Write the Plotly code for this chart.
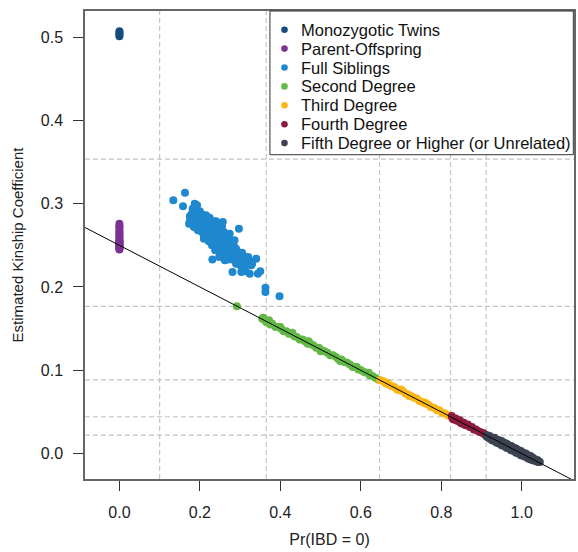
import plotly.graph_objects as go

# ---------------- data ----------------
twins_x = [0.0, 0.0, 0.0, 0.0]
twins_y = [0.501, 0.503, 0.505, 0.507]

po_x = [0.0] * 21
po_y = [0.245, 0.246, 0.247, 0.248, 0.249, 0.250, 0.251, 0.252, 0.253, 0.254,
        0.255, 0.256, 0.258, 0.260, 0.262, 0.264, 0.266, 0.268, 0.271, 0.273, 0.276]

fs_x = [0.134, 0.163, 0.158, 0.182, 0.193, 0.187, 0.173, 0.196, 0.224, 0.245, 0.257, 0.297, 0.274,
        0.340, 0.328, 0.344, 0.281, 0.303, 0.324, 0.314, 0.363, 0.363, 0.398, 0.231, 0.291, 0.350,
        0.175, 0.175, 0.180, 0.180, 0.180, 0.185, 0.185, 0.185, 0.190, 0.190, 0.190,
        0.195, 0.195, 0.195, 0.195, 0.200, 0.200, 0.200, 0.200, 0.205, 0.205, 0.205, 0.205,
        0.210, 0.210, 0.210, 0.210, 0.215, 0.215, 0.215, 0.215, 0.220, 0.220, 0.220, 0.220,
        0.225, 0.225, 0.225, 0.225, 0.230, 0.230, 0.230, 0.230, 0.230, 0.235, 0.235, 0.235, 0.235, 0.235,
        0.240, 0.240, 0.240, 0.240, 0.240, 0.245, 0.245, 0.245, 0.245, 0.245,
        0.250, 0.250, 0.250, 0.250, 0.250, 0.255, 0.255, 0.255, 0.255, 0.260, 0.260, 0.260, 0.260, 0.260,
        0.265, 0.265, 0.265, 0.265, 0.270, 0.270, 0.270, 0.270, 0.270, 0.275, 0.275, 0.275, 0.275,
        0.280, 0.280, 0.280, 0.280, 0.285, 0.285, 0.285, 0.285, 0.290, 0.290, 0.290,
        0.295, 0.295, 0.295, 0.300, 0.300, 0.300, 0.305, 0.305, 0.305, 0.310, 0.310, 0.310,
        0.315, 0.315, 0.320, 0.320, 0.325, 0.330,
        0.248, 0.262, 0.238, 0.222, 0.210, 0.255, 0.240, 0.268, 0.286]
fs_y = [0.304, 0.313, 0.297, 0.294, 0.298, 0.300, 0.276, 0.282, 0.283, 0.275, 0.278, 0.270, 0.264,
        0.234, 0.226, 0.216, 0.218, 0.218, 0.216, 0.219, 0.199, 0.194, 0.189, 0.233, 0.232, 0.219,
        0.285, 0.279, 0.288, 0.281, 0.276, 0.283, 0.290, 0.272, 0.286, 0.279, 0.271,
        0.289, 0.283, 0.276, 0.268, 0.284, 0.278, 0.272, 0.291, 0.281, 0.275, 0.287, 0.266,
        0.284, 0.278, 0.270, 0.262, 0.280, 0.274, 0.268, 0.286, 0.276, 0.270, 0.264, 0.281,
        0.273, 0.267, 0.260, 0.279, 0.276, 0.270, 0.264, 0.257, 0.250, 0.272, 0.266, 0.259, 0.279, 0.253,
        0.268, 0.262, 0.256, 0.274, 0.250, 0.265, 0.259, 0.252, 0.270, 0.246,
        0.268, 0.261, 0.255, 0.249, 0.242, 0.264, 0.258, 0.251, 0.244, 0.260, 0.254, 0.247, 0.266, 0.238,
        0.257, 0.251, 0.244, 0.239, 0.253, 0.247, 0.241, 0.258, 0.233, 0.250, 0.244, 0.238, 0.255,
        0.247, 0.241, 0.235, 0.252, 0.244, 0.238, 0.232, 0.249, 0.246, 0.240, 0.228,
        0.242, 0.236, 0.230, 0.239, 0.233, 0.226, 0.241, 0.235, 0.229, 0.237, 0.231, 0.224,
        0.233, 0.227, 0.236, 0.229, 0.231, 0.228,
        0.236, 0.232, 0.244, 0.255, 0.258, 0.273, 0.279, 0.262, 0.256]

sd_x = [0.292, 0.355, 0.357, 0.360, 0.365, 0.370, 0.372, 0.375, 0.380, 0.388, 0.395, 0.400, 0.402,
        0.408, 0.415, 0.421, 0.428, 0.430, 0.435, 0.441, 0.448, 0.455, 0.461, 0.468, 0.470, 0.475,
        0.482, 0.489, 0.496, 0.500, 0.503, 0.510, 0.517, 0.524, 0.531, 0.538, 0.545, 0.550, 0.552,
        0.559, 0.566, 0.573, 0.580, 0.587, 0.590, 0.594, 0.601, 0.608, 0.615, 0.620, 0.622, 0.629,
        0.636, 0.643]
sd_y = [0.177, 0.162, 0.163, 0.161, 0.158, 0.158, 0.160, 0.155, 0.156, 0.152, 0.152, 0.152, 0.150,
        0.147, 0.147, 0.144, 0.144, 0.145, 0.141, 0.140, 0.137, 0.137, 0.135, 0.132, 0.135, 0.132,
        0.130, 0.127, 0.127, 0.123, 0.124, 0.123, 0.121, 0.118, 0.118, 0.116, 0.113, 0.111, 0.113,
        0.110, 0.109, 0.107, 0.104, 0.104, 0.104, 0.101, 0.100, 0.098, 0.097, 0.097, 0.094, 0.093,
        0.091, 0.089]

td_x = [0.648, 0.655, 0.662, 0.665, 0.669, 0.676, 0.683, 0.690, 0.697, 0.700, 0.704, 0.711, 0.718,
        0.720, 0.725, 0.732, 0.739, 0.746, 0.753, 0.760, 0.760, 0.767, 0.774, 0.781, 0.788, 0.790,
        0.795, 0.802, 0.809, 0.816, 0.821]
td_y = [0.088, 0.087, 0.084, 0.085, 0.083, 0.081, 0.080, 0.077, 0.076, 0.077, 0.075, 0.072, 0.071,
        0.069, 0.069, 0.067, 0.066, 0.063, 0.062, 0.060, 0.061, 0.059, 0.056, 0.055, 0.053, 0.052,
        0.052, 0.049, 0.048, 0.046, 0.045]

fd_x = [0.826, 0.828, 0.831, 0.836, 0.838, 0.841, 0.846, 0.848, 0.851, 0.856, 0.858, 0.861, 0.866,
        0.871, 0.876, 0.881, 0.886, 0.891, 0.896, 0.901, 0.906, 0.910]
fd_y = [0.045, 0.042, 0.041, 0.042, 0.040, 0.039, 0.040, 0.037, 0.036, 0.037, 0.035, 0.034, 0.035,
        0.032, 0.032, 0.029, 0.029, 0.027, 0.026, 0.025, 0.024, 0.022]

un_x = [0.914, 0.914, 0.920, 0.920, 0.926, 0.926, 0.932, 0.932, 0.938, 0.938, 0.944, 0.944, 0.950,
        0.950, 0.956, 0.956, 0.962, 0.962, 0.968, 0.968, 0.974, 0.974, 0.980, 0.980, 0.986, 0.986,
        0.992, 0.992, 0.998, 0.998, 1.004, 1.004, 1.010, 1.010, 1.016, 1.016, 1.022, 1.022, 1.028,
        1.028, 1.034, 1.034, 1.040, 1.040, 1.045]
un_y = [0.022, 0.020, 0.021, 0.018, 0.019, 0.016, 0.019, 0.015, 0.017, 0.013, 0.016, 0.012, 0.015,
        0.010, 0.013, 0.009, 0.012, 0.007, 0.010, 0.006, 0.009, 0.004, 0.007, 0.003, 0.006, 0.001,
        0.004, 0.000, 0.003, -0.002, 0.001, -0.003, 0.000, -0.004, -0.002, -0.006, -0.003, -0.007,
        -0.005, -0.008, -0.007, -0.009, -0.008, -0.010, -0.010]

names = ["Monozygotic Twins", "Parent-Offspring", "Full Siblings", "Second Degree",
         "Third Degree", "Fourth Degree", "Fifth Degree or Higher (or Unrelated)"]
colors = ["#174A7E", "#7B3294", "#1F88CF", "#63B946", "#FDB515", "#8C1C3F", "#3D4350"]

# thresholds
kin_thresholds = [0.3536, 0.1768, 0.0884, 0.0442, 0.0221]
ibd0_thresholds = [0.1, 0.365, 0.6464, 0.8232, 0.9116]

line_intercept = 0.25
line_slope = -0.25

x_ticks = [0.0, 0.2, 0.4, 0.6, 0.8, 1.0]
y_ticks = [0.0, 0.1, 0.2, 0.3, 0.4, 0.5]

XR = [-0.0856, 1.130]
YR = [-0.0305, 0.5313]

# ---------------- figure ----------------
W, H = 578, 552
ML, MR, MT, MB = 85, 2, 11, 73
PW, PH = W - ML - MR, H - MT - MB

FONT = "Liberation Sans, Arial, Helvetica, sans-serif"
fig = go.Figure()
groups = [(twins_x, twins_y), (po_x, po_y), (fs_x, fs_y), (sd_x, sd_y),
          (td_x, td_y), (fd_x, fd_y), (un_x, un_y)]
for (gx, gy), nm, c in zip(groups, names, colors):
    fig.add_trace(go.Scatter(x=gx, y=gy, mode="markers", name=nm, showlegend=False,
                             marker=dict(color=c, size=8, line=dict(width=0))))

fig.add_trace(go.Scatter(x=XR, y=[line_intercept + line_slope * v for v in XR],
                         mode="lines", line=dict(color="black", width=1),
                         showlegend=False, hoverinfo="skip"))

shapes = []
for k in kin_thresholds:
    shapes.append(dict(type="line", xref="paper", yref="y", x0=0, x1=1, y0=k, y1=k,
                       line=dict(color="#c4c4c4", width=1.2, dash="5px,3px"), layer="below"))
for v in ibd0_thresholds:
    shapes.append(dict(type="line", xref="x", yref="paper", x0=v, x1=v, y0=0, y1=1,
                       line=dict(color="#c4c4c4", width=1.2, dash="5px,3px"), layer="below"))

# legend box (drawn manually to match R's compact legend spacing)
def px_x(p):
    return (p - ML) / PW

def px_y(p):
    return 1 - (p - MT) / PH

shapes.append(dict(type="rect", xref="paper", yref="paper",
                   x0=px_x(270.7), x1=px_x(575.3), y0=px_y(154.7), y1=1.0,
                   fillcolor="white", line=dict(color="#333", width=1), layer="above"))
annotations = []
for i, (nm, c) in enumerate(zip(names, colors)):
    ry = px_y(29.7 + i * 18.9)
    shapes.append(dict(type="circle", xref="paper", yref="paper",
                       xsizemode="pixel", ysizemode="pixel",
                       xanchor=px_x(285.3), yanchor=ry, x0=-3.3, x1=3.3, y0=-3.3, y1=3.3,
                       fillcolor=c, line=dict(width=0), layer="above"))
    annotations.append(dict(xref="paper", yref="paper", x=px_x(300.0), y=ry,
                            xanchor="left", yanchor="middle", text=nm, showarrow=False,
                            font=dict(family=FONT, size=16.5, color="#111")))

fig.update_layout(
    width=W, height=H,
    margin=dict(l=ML, r=MR, t=MT, b=MB),
    paper_bgcolor="white", plot_bgcolor="white",
    font=dict(family=FONT, size=16, color="#222"),
    shapes=shapes, annotations=annotations,
    showlegend=False,
)
fig.update_xaxes(range=XR, tickvals=x_ticks, ticktext=[f"{v:.1f}" for v in x_ticks],
                 showgrid=False, zeroline=False, showline=True, linecolor="#666", linewidth=1.5,
                 mirror=True, ticks="outside", ticklen=10, tickcolor="#333", tickwidth=1,
                 ticklabelstandoff=8,
                 title=dict(text="Pr(IBD = 0)", standoff=14, font=dict(size=16)))
fig.update_yaxes(range=YR, tickvals=y_ticks, ticktext=[f"{v:.1f}" for v in y_ticks],
                 showgrid=False, zeroline=False, showline=True, linecolor="#666", linewidth=1.5,
                 mirror=True, ticks="outside", ticklen=10, tickcolor="#333", tickwidth=1,
                 ticklabelstandoff=7,
                 title=dict(text="Estimated Kinship Coefficient", standoff=14, font=dict(size=15)))

fig.write_html("out.html")
